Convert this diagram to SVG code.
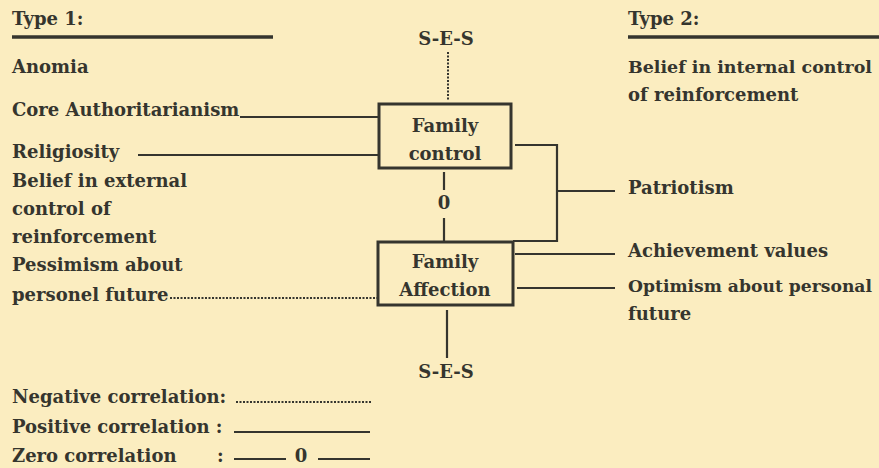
<svg xmlns="http://www.w3.org/2000/svg" width="879" height="468" viewBox="0 0 879 468">
<style>
text{font-family:"DejaVu Serif","Liberation Serif",serif;font-size:18px;font-weight:bold;fill:#35352e;}
.c{text-anchor:middle;}
.long{font-size:17px;}
.ln{stroke:#35352e;stroke-width:2.2;fill:none;}
.thick{stroke:#35352e;stroke-width:3.5;fill:none;}
.dot{stroke:#35352e;stroke-width:2;fill:none;stroke-dasharray:2 1.5;}
.box{stroke:#35352e;stroke-width:3;fill:none;}
</style>
<rect width="879" height="468" fill="#fbedc0"/>
<g id="type1">
<text x="12" y="25">Type 1:</text>
<line class="thick" x1="12" y1="37" x2="273" y2="37"/>
<text x="12" y="73">Anomia</text>
<text x="12" y="116">Core Authoritarianism</text>
<text x="12" y="158">Religiosity</text>
<text x="12" y="187">Belief in external</text>
<text x="12" y="215">control of</text>
<text x="12" y="243">reinforcement</text>
<text x="12" y="271">Pessimism about</text>
<text x="12" y="301">personel future</text>
</g>
<g id="type2">
<text x="628" y="25">Type 2:</text>
<line class="thick" x1="628" y1="37" x2="879" y2="37"/>
<text class="long" x="628" y="73" textLength="244" lengthAdjust="spacingAndGlyphs">Belief in internal control</text>
<text x="628" y="101">of reinforcement</text>
<text x="628" y="194">Patriotism</text>
<text x="628" y="257">Achievement values</text>
<text class="long" x="628" y="292" textLength="244" lengthAdjust="spacingAndGlyphs">Optimism about personal</text>
<text x="628" y="320">future</text>
</g>
<g id="ses-top"><text class="c" x="446" y="45">S-E-S</text></g>
<g id="ses-bottom"><text class="c" x="446" y="378">S-E-S</text></g>
<g id="family-control">
<rect class="box" x="379" y="104" width="132" height="64"/>
<text class="c" x="445" y="132">Family</text>
<text class="c" x="445" y="160">control</text>
</g>
<g id="family-affection">
<rect class="box" x="378" y="242" width="135" height="63"/>
<text class="c" x="445" y="268">Family</text>
<text class="c" x="445" y="296">Affection</text>
</g>
<g id="connectors">
<line class="dot" x1="448" y1="52" x2="448" y2="101"/>
<line class="ln" x1="240" y1="117" x2="379" y2="117"/>
<line class="ln" x1="138" y1="155" x2="379" y2="155"/>
<line class="dot" x1="170" y1="298" x2="378" y2="298"/>
<line class="ln" x1="444" y1="172" x2="444" y2="190"/>
<text class="c" x="444" y="209">0</text>
<line class="ln" x1="444" y1="218" x2="444" y2="241"/>
<polyline class="ln" points="515,145 557,145 557,241 513,241"/>
<line class="ln" x1="557" y1="191" x2="615" y2="191"/>
<line class="ln" x1="515" y1="254" x2="615" y2="254"/>
<line class="ln" x1="517" y1="288" x2="615" y2="288"/>
<line class="ln" x1="447" y1="310" x2="447" y2="358"/>
</g>
<g id="legend">
<text x="12" y="403">Negative correlation:</text>
<line class="dot" x1="236" y1="402" x2="372" y2="402"/>
<text x="12" y="433">Positive correlation :</text>
<line class="ln" x1="234" y1="432" x2="370" y2="432"/>
<text x="12" y="462">Zero correlation</text>
<text x="217" y="462">:</text>
<line class="ln" x1="234" y1="459" x2="286" y2="459"/>
<text class="c" x="301" y="462">0</text>
<line class="ln" x1="318" y1="459" x2="370" y2="459"/>
</g>
</svg>
